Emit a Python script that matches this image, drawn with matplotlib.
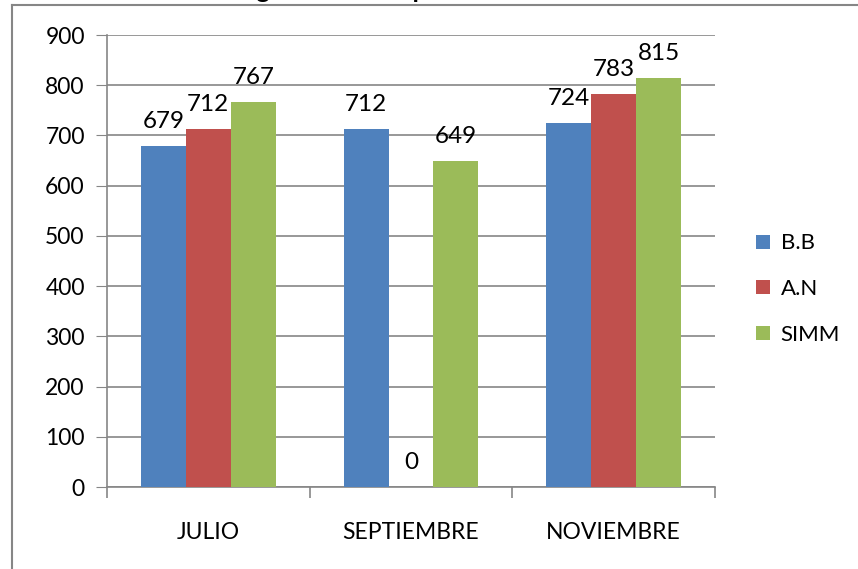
import matplotlib.pyplot as plt
import numpy as np
from matplotlib.lines import Line2D

plt.rcParams['font.family'] = ['Lato', 'DejaVu Sans']

categories = ['JULIO', 'SEPTIEMBRE', 'NOVIEMBRE']
series = ['B.B', 'A.N', 'SIMM']
values = {
    'B.B': [679, 712, 724],
    'A.N': [712, 0, 783],
    'SIMM': [767, 649, 815],
}
colors = ['#4F81BD', '#C0504D', '#9BBB59']
yticks = [0, 100, 200, 300, 400, 500, 600, 700, 800, 900]

fig = plt.figure(figsize=(8.58, 5.69), dpi=100)
ax = fig.add_axes([107 / 858, 1 - 487 / 569, (715 - 107) / 858, (487 - 35) / 569])

# outer chart border (cropped at right/bottom in the original)
grey = '#868686'
fig.add_artist(Line2D([12 / 858, 12 / 858], [0, 1 - 5 / 569], color=grey, lw=1.5))
fig.add_artist(Line2D([12 / 858, 1], [1 - 5 / 569, 1 - 5 / 569], color=grey, lw=1.5))

# title, mostly cut off above the picture
fig.text(0.36, 1.004, 'Resultados globales de la prueba', ha='center', va='baseline',
         fontsize=18, fontweight='bold')

x = np.arange(len(categories))
w = 0.222
for i, s in enumerate(series):
    pos = x + (i - 1) * w
    bars = ax.bar(pos, values[s], width=w, color=colors[i], label=s, zorder=3)
    for b, v in zip(bars, values[s]):
        ax.annotate(str(v), (b.get_x() + b.get_width() / 2, v), xytext=(0, 13),
                    textcoords='offset points', ha='center', va='baseline', fontsize=17.5)

ax.set_xlim(-0.5, 2.5)
ax.set_ylim(0, 900)
ax.set_yticks(yticks)
ax.tick_params(axis='y', labelsize=16.5, length=8, color=grey, pad=8)
ax.yaxis.grid(True, color=grey, lw=1.2, zorder=0)

ax.set_xticks(x)
ax.set_xticklabels(categories, fontsize=16.5)
ax.set_xticks([-0.5, 0.5, 1.5, 2.5], minor=True)
ax.tick_params(axis='x', which='major', length=0, pad=25)
ax.tick_params(axis='x', which='minor', length=8, color=grey, width=1.2)

for side in ['top', 'right']:
    ax.spines[side].set_visible(False)
ax.spines['left'].set_color(grey)
ax.spines['bottom'].set_color(grey)
ax.spines['left'].set_linewidth(1.2)
ax.spines['bottom'].set_linewidth(1.2)

ax.legend(loc='center left', bbox_to_anchor=(1.035, 0.438), frameon=False, fontsize=16,
          handlelength=0.6, handleheight=0.6, handletextpad=0.5, labelspacing=1.15)

fig.savefig('out.png', dpi=100)
